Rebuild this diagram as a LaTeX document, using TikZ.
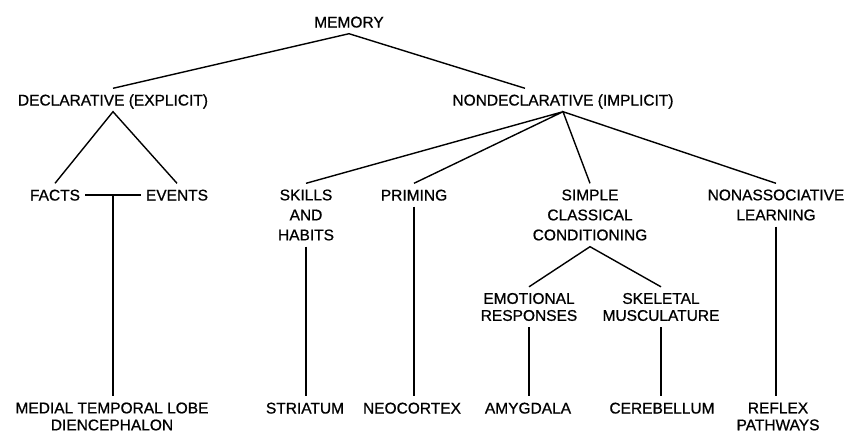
\documentclass[tikz,border=0pt]{standalone}
\usepackage{fontspec}
\setmainfont[FakeBold=0.8]{Liberation Sans}
\usetikzlibrary{calc}
\begin{document}
\begin{tikzpicture}[x=1pt,y=-1pt,
  lbl/.style={font=\fontsize{15.5}{20}\selectfont, inner xsep=5pt, inner ysep=6pt,
              text height=11pt, text depth=0pt},
  multi/.style={font=\fontsize{15.5}{20}\selectfont, inner xsep=5pt, inner ysep=6pt,
                align=center},
  tight/.style={font=\fontsize{15.5}{17}\selectfont, inner xsep=5pt, inner ysep=6pt,
                align=center},
  link/.style={line width=1.4pt, black}]
\useasboundingbox (0,0) rectangle (850,432);

% top levels
\node[lbl] (mem)   at (349,22)  {MEMORY};
\node[lbl] (decl)  at (113,100) {DECLARATIVE (EXPLICIT)};
\node[lbl] (ndecl) at (563,100) {NONDECLARATIVE (IMPLICIT)};

% declarative branch
\node[lbl] (facts)  at (55,195)  {FACTS};
\node[lbl] (events) at (177,195) {EVENTS};
\node[tight] (mtl) at (112,416.5) {MEDIAL TEMPORAL LOBE\\DIENCEPHALON};

% nondeclarative branch
\node[multi] (skills) at (306,215) {SKILLS\\AND\\HABITS};
\node[lbl]   (prim)   at (414,195) {PRIMING};
\node[multi] (scc)    at (590,215) {SIMPLE\\CLASSICAL\\CONDITIONING};
\node[multi] (nonas)  at (776,205) {NONASSOCIATIVE\\LEARNING};
\node[tight] (emo)    at (529,307) {EMOTIONAL\\RESPONSES};
\node[tight] (skel)   at (661,307) {SKELETAL\\MUSCULATURE};

% brain structures
\node[lbl]   (stri) at (305,408) {STRIATUM};
\node[lbl]   (neo)  at (412,408) {NEOCORTEX};
\node[lbl]   (amy)  at (528,408) {AMYGDALA};
\node[lbl]   (cer)  at (662,408) {CEREBELLUM};
\node[tight] (refl) at (778,416.5) {REFLEX\\PATHWAYS};

% junction points
\coordinate (ndtop) at ($(ndecl.north)+(-38,0)$);
\coordinate (fe) at ($(facts.east)!0.5!(events.west)$);

% connectors
\draw[link] (decl.north) -- (mem.south) -- (ndtop);
\draw[link] (facts.north) -- (decl.south) -- (events.north);
\draw[link] (facts.east) -- (events.west);
\draw[link] (fe) -- (fe |- stri.north);

\draw[link] (skills.north) -- (ndecl.south) -- (prim.north);
\draw[link] (scc.north) -- (ndecl.south) -- (nonas.north);

\draw[link] (skills.south) -- (skills.south |- stri.north);
\draw[link] (prim.south) -- (prim.south |- neo.north);
\draw[link] (emo.north) -- (scc.south) -- (skel.north);
\draw[link] (emo.south) -- (emo.south |- amy.north);
\draw[link] (skel.south) -- (skel.south |- cer.north);
\draw[link] (nonas.south) -- (nonas.south |- refl.north);
\end{tikzpicture}
\end{document}
